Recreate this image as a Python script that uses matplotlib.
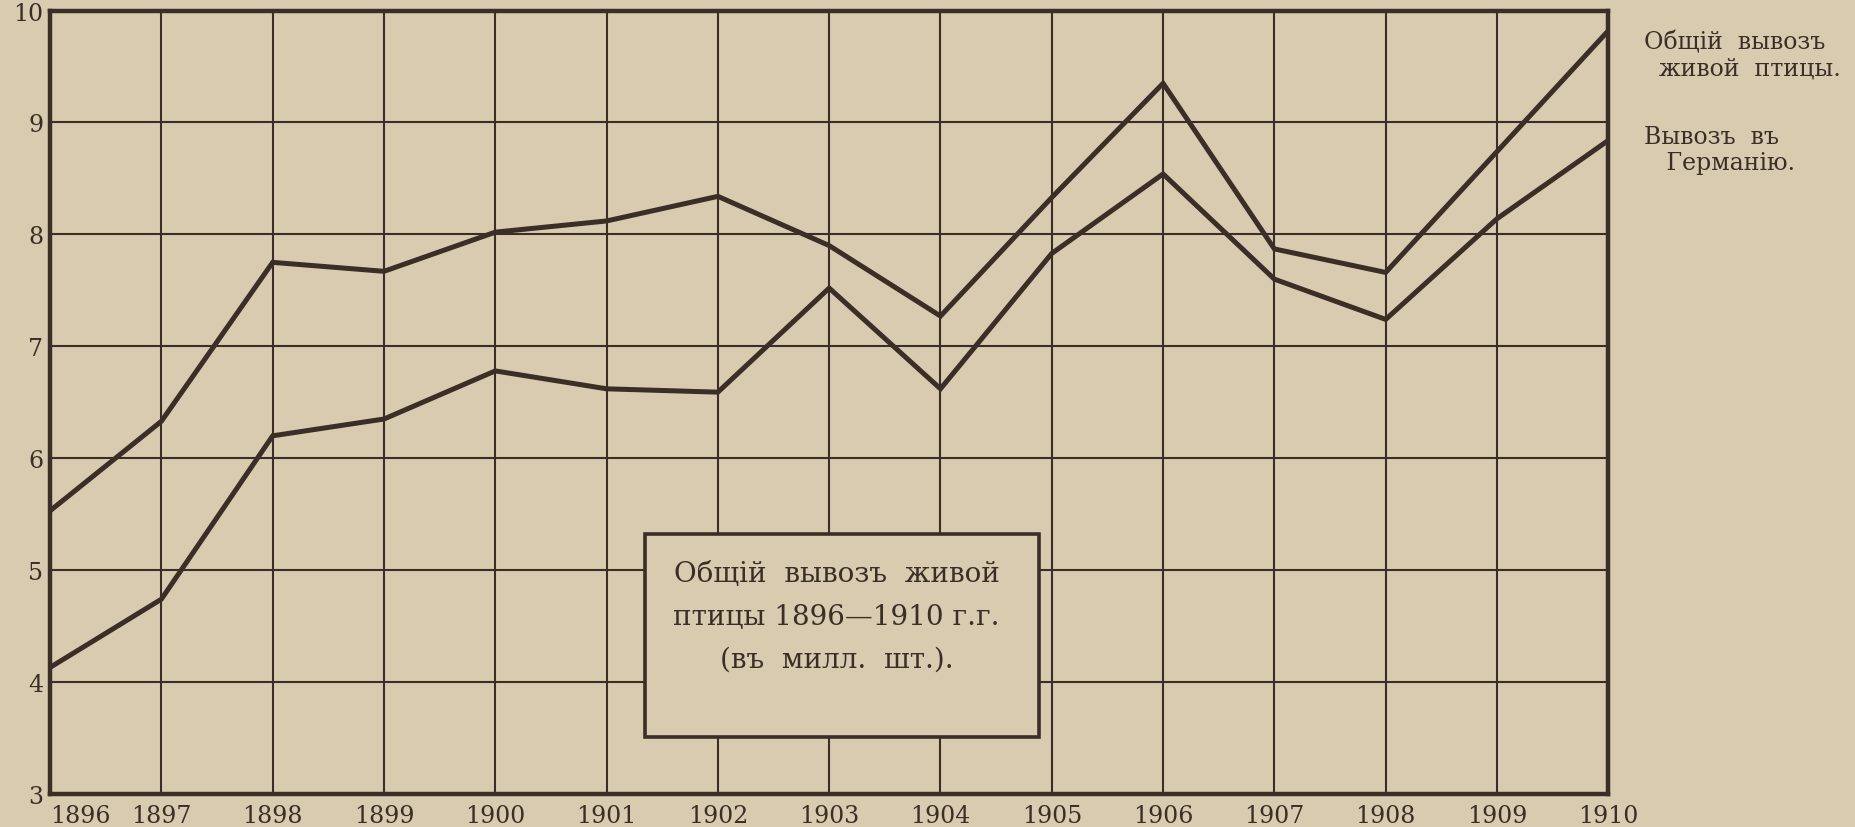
import matplotlib
matplotlib.use("Agg")
import matplotlib.pyplot as plt
from matplotlib.patches import Rectangle

years = list(range(1896, 1911))
total_export = [5.53, 6.33, 7.75, 7.67, 8.02, 8.12, 8.34, 7.90, 7.27, 8.33, 9.35, 7.87, 7.66, 8.74, 9.82]
germany_export = [4.13, 4.74, 6.20, 6.35, 6.78, 6.62, 6.59, 7.52, 6.62, 7.83, 8.54, 7.60, 7.24, 8.14, 8.84]
y_ticks = [3, 4, 5, 6, 7, 8, 9, 10]

label_total = "Общій  вывозъ\n  живой  птицы."
label_germany = "Вывозъ  въ\n   Германію."
box_lines = ["Общій  вывозъ  живой", "птицы 1896—1910 г.г.", "(въ  милл.  шт.)."]

paper = "#d9cbb0"
ink = "#3a2e26"
plt.rcParams['font.family'] = ['DejaVu Serif']

fig = plt.figure(figsize=(18.55, 8.28), dpi=100)
fig.patch.set_facecolor(paper)
ax = fig.add_axes([0.027, 0.040, 0.840, 0.946])
ax.set_facecolor(paper)

ax.plot(years, total_export, color=ink, lw=3.6, zorder=3, solid_joinstyle='miter')
ax.plot(years, germany_export, color=ink, lw=3.6, zorder=3, solid_joinstyle='miter')

ax.set_xlim(1896, 1910)
ax.set_ylim(3, 10)
ax.set_xticks(years)
ax.set_yticks(y_ticks)
ax.grid(True, color=ink, lw=1.5, zorder=1)
ax.set_axisbelow(True)
for s in ax.spines.values():
    s.set_color(ink)
    s.set_linewidth(3.2)
ax.tick_params(length=0, colors=ink)
ax.tick_params(axis='x', pad=7, labelsize=17)
ax.tick_params(axis='y', pad=5, labelsize=17)
xl = ax.get_xticklabels()
xl[0].set_ha('left')

fig.text(0.886, 0.962, label_total, fontsize=17, color=ink, va='top', ha='left', linespacing=1.15)
fig.text(0.886, 0.848, label_germany, fontsize=17, color=ink, va='top', ha='left', linespacing=1.15)

box = Rectangle((645 / 1855, 1 - 738 / 828), (1039 - 645) / 1855, (738 - 535) / 828,
                transform=fig.transFigure, facecolor=paper, edgecolor=ink, lw=2.6, zorder=5)
fig.add_artist(box)
for i, line in enumerate(box_lines):
    fig.text(0.451, 0.306 - i * 0.0515, line, fontsize=20, color=ink, ha='center', va='center', zorder=6)

fig.savefig("out.png", dpi=100, facecolor=paper)
